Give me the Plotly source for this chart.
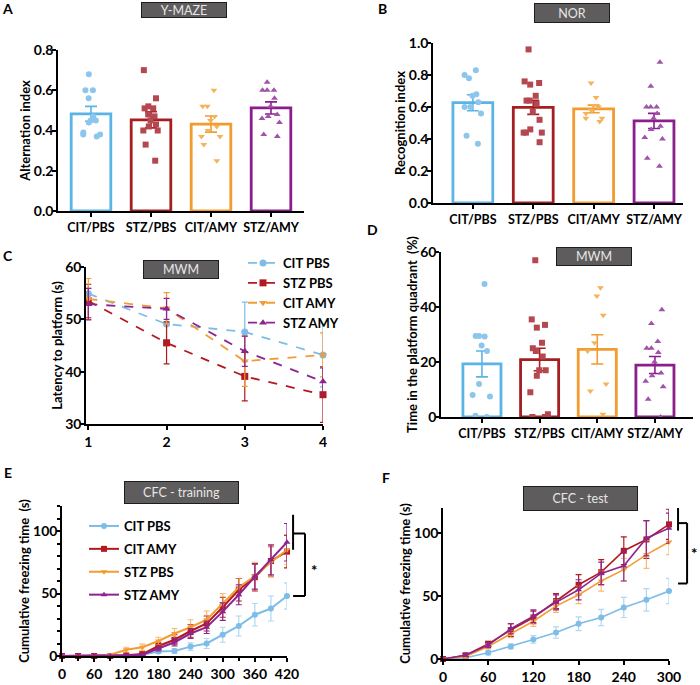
import plotly.graph_objects as go

W, H = 700, 685
FONT = "Lato"

groups = ["CIT/PBS", "STZ/PBS", "CIT/AMY", "STZ/AMY"]
bar_colors = ["#5BB4E6", "#A51E22", "#F29B2F", "#8B1D8D"]
dot_colors = ["#8CC6EC", "#B4474F", "#F5B257", "#A152A9"]
dot_symbols = ["circle", "square", "triangle-down", "triangle-up"]

# A - Y-maze
ymaze_points = [
    [0.68, 0.60, 0.60, 0.56, 0.47, 0.45, 0.45, 0.44, 0.39, 0.38, 0.38, 0.37],
    [0.70, 0.56, 0.52, 0.51, 0.51, 0.48, 0.47, 0.45, 0.43, 0.42, 0.40, 0.40, 0.33, 0.25],
    [0.60, 0.52, 0.52, 0.47, 0.45, 0.42, 0.40, 0.37, 0.37, 0.33, 0.25],
    [0.64, 0.60, 0.60, 0.60, 0.56, 0.52, 0.48, 0.47, 0.46, 0.44, 0.38, 0.37],
]
ymaze_mean = [0.483, 0.453, 0.432, 0.512]
ymaze_sem = [0.037, 0.040, 0.040, 0.030]

# B - NOR
nor_points = [
    [0.83, 0.80, 0.78, 0.68, 0.67, 0.63, 0.60, 0.60, 0.56, 0.42, 0.37],
    [0.96, 0.76, 0.75, 0.74, 0.67, 0.64, 0.64, 0.62, 0.57, 0.52, 0.46, 0.44, 0.44, 0.44, 0.38],
    [0.75, 0.66, 0.61, 0.60, 0.58, 0.56, 0.53, 0.53, 0.51],
    [0.88, 0.73, 0.60, 0.60, 0.60, 0.56, 0.53, 0.48, 0.46, 0.41, 0.40, 0.28, 0.23],
]
nor_mean = [0.627, 0.598, 0.588, 0.513]
nor_sem = [0.050, 0.044, 0.024, 0.047]

# C - MWM latency
days = [1, 2, 3, 4]
mwm_names = ["CIT PBS", "STZ PBS", "CIT AMY", "STZ AMY"]
mwm_lat = [
    [54.9, 49.1, 47.6, 43.2],
    [53.5, 45.5, 39.1, 35.6],
    [53.9, 52.1, 42.0, 43.2],
    [52.9, 52.0, 43.9, 38.1],
]
mwm_lat_sem = [
    [1.0, 3.0, 5.7, 6.1],
    [3.2, 4.0, 4.7, 5.3],
    [3.9, 3.0, 4.8, 4.2],
    [3.0, 2.0, 2.9, 2.6],
]

# D - MWM probe
probe_points = [
    [48.4, 29.5, 29.3, 29.5, 26.0, 24.0, 12.0, 8.0, 7.5, 0.5, 0.0],
    [57.0, 35.5, 33.5, 32.5, 27.0, 25.0, 24.0, 22.0, 17.0, 17.0, 15.0, 9.0, 1.0, 0.0, 0.0],
    [47.0, 44.0, 37.0, 27.0, 24.0, 12.0, 9.5, 1.0],
    [39.0, 34.0, 27.5, 25.0, 25.0, 23.5, 20.0, 16.0, 15.0, 13.0, 11.0, 6.5, 0.0],
]
probe_mean = [19.3, 20.9, 24.6, 18.9]
probe_sem = [4.7, 4.1, 5.3, 3.1]

# E / F - CFC
cfc_names = ["CIT PBS", "CIT AMY", "STZ PBS", "STZ AMY"]
cfc_colors = ["#7DBDE8", "#B3191F", "#F39C33", "#8E2490"]
cfc_err_colors = ["rgba(125,189,232,0.6)", "#B3191F", "rgba(243,156,51,0.7)", "#8E2490"]
cfc_symbols = ["circle", "square", "triangle-down", "triangle-up"]

train_t = [0, 30, 60, 90, 120, 150, 180, 210, 240, 270, 300, 330, 360, 390, 420]
train_vals = [
    [0, 0, 0, 0, 0.5, 1, 3.5, 4, 7.5, 10, 17, 24, 33, 38, 48],
    [0, 0, 0, 0, 0.5, 1.5, 8, 13, 20, 26, 39, 53, 63, 76, 83.5],
    [0, 0, 0, 1, 5, 7, 12, 18, 23, 29, 42, 55, 64, 75, 85],
    [0, 0, 0, 0, 0.5, 1, 6, 11, 18, 23, 35.5, 49, 63.5, 77, 91],
]
train_sem = [
    [0, 0, 0, 0, 0.3, 0.5, 1.5, 2, 3, 4, 6, 8, 9, 10, 10.5],
    [0, 0, 0, 0.3, 0.5, 1, 3, 4, 5, 6, 8, 9, 11, 12, 13],
    [0, 0, 0, 0.5, 2, 2.5, 3, 4, 6, 7, 8, 7, 11, 12, 12],
    [0, 0, 0, 0, 0.3, 0.5, 2, 3, 4, 5, 7, 8, 10, 12, 15],
]

test_t = [0, 30, 60, 90, 120, 150, 180, 210, 240, 270, 300]
test_vals = [
    [0, 1, 5, 10, 15.5, 21, 28, 33, 41, 47, 54],
    [0, 3, 12, 23, 33, 46, 59, 69, 86, 95, 107],
    [0, 2, 10, 20, 30, 42, 51, 62, 71, 83, 93],
    [0, 3, 11, 24, 34, 45, 55, 68, 74, 96, 104],
]
test_sem = [
    [0, 0.5, 1.5, 2, 3, 4.5, 5.5, 6.5, 8, 9, 10],
    [0, 1, 2, 5, 5, 6, 8, 10, 11, 15, 12],
    [0, 1, 2, 3, 4, 5, 7, 8, 9, 11, 10],
    [0, 1, 2, 4, 5, 6, 8, 9, 12, 14, 12],
]


def xd(a, b):
    return [a / W, b / W]


def yd(top, bottom):
    return [1 - bottom / H, 1 - top / H]


fig = go.Figure()


def bar_panel(n, points, means, sems):
    for i, g in enumerate(groups):
        fig.add_trace(go.Bar(
            x=[g], y=[means[i]], width=0.66, xaxis="x%d" % n, yaxis="y%d" % n,
            marker=dict(color="white", line=dict(color=bar_colors[i], width=2.8)),
            error_y=dict(type="data", array=[sems[i]], color=bar_colors[i],
                         thickness=1.6, width=6),
            showlegend=False, hoverinfo="skip"))
    for i, g in enumerate(groups):
        fig.add_trace(go.Box(
            x=[g] * len(points[i]), y=points[i], xaxis="x%d" % n, yaxis="y%d" % n,
            boxpoints="all", jitter=0.9, pointpos=0, width=0.45,
            fillcolor="rgba(0,0,0,0)", line=dict(color="rgba(0,0,0,0)"),
            marker=dict(symbol=dot_symbols[i], size=6, color=dot_colors[i]),
            showlegend=False, hoverinfo="skip"))


bar_panel(1, ymaze_points, ymaze_mean, ymaze_sem)
bar_panel(2, nor_points, nor_mean, nor_sem)
bar_panel(4, probe_points, probe_mean, probe_sem)

mwm_colors = ["#7DBDE8", "#B3191F", "#F39C33", "#8E2490"]
mwm_symbols = ["circle", "square", "triangle-down", "triangle-up"]
for i, name in enumerate(mwm_names):
    fig.add_trace(go.Scatter(
        x=days, y=mwm_lat[i], name=name, mode="lines+markers", xaxis="x3", yaxis="y3",
        line=dict(color=mwm_colors[i], width=1.8, dash="dash"),
        marker=dict(symbol=mwm_symbols[i], size=7, color=mwm_colors[i]),
        error_y=dict(type="data", array=mwm_lat_sem[i], color=mwm_colors[i],
                     thickness=1.2, width=3),
        cliponaxis=False, legend="legend"))

for i, name in enumerate(cfc_names):
    fig.add_trace(go.Scatter(
        x=train_t, y=train_vals[i], name=name, mode="lines+markers", xaxis="x5", yaxis="y5",
        line=dict(color=cfc_colors[i], width=2),
        marker=dict(symbol=cfc_symbols[i], size=6, color=cfc_colors[i]),
        error_y=dict(type="data", array=train_sem[i], color=cfc_err_colors[i],
                     thickness=1.2, width=3),
        cliponaxis=False, legend="legend2", legendgroup=name))
    fig.add_trace(go.Scatter(
        x=test_t, y=test_vals[i], name=name, mode="lines+markers", xaxis="x6", yaxis="y6",
        line=dict(color=cfc_colors[i], width=1.6),
        marker=dict(symbol=cfc_symbols[i], size=6, color=cfc_colors[i]),
        error_y=dict(type="data", array=test_sem[i], color=cfc_err_colors[i],
                     thickness=1.2, width=3),
        cliponaxis=False, showlegend=False))

tick_font = dict(family=FONT, size=14, color="black", weight="bold")
time_font = dict(family=FONT, size=14, color="black", weight="bold")
cat_font = dict(family=FONT, size=12.5, color="black", weight="bold")
title_font = dict(family=FONT, size=13, color="black", weight="bold")
base = dict(showline=True, linecolor="black", linewidth=1.6, ticks="outside",
            ticklen=4, tickwidth=1.6, tickcolor="black", showgrid=False,
            zeroline=False, tickfont=tick_font, automargin=False)


def cat_axis(a, b, rng):
    return dict(base, domain=xd(a, b), type="category", range=rng,
                categoryorder="array", categoryarray=groups, tickfont=cat_font)


def y_axis(top, bottom, rng, dtick, title, anchor, fmt=None, **kw):
    d = dict(base, domain=yd(top, bottom), range=rng, dtick=dtick, anchor=anchor,
             ticklabelstandoff=-4,
             title=dict(text=title, font=title_font, standoff=0))
    if fmt:
        d["tickformat"] = fmt
    d.update(kw)
    return d


fig.update_layout(
    width=W, height=H, margin=dict(l=0, r=0, t=0, b=0, autoexpand=False),
    plot_bgcolor="white", paper_bgcolor="white",
    barmode="overlay", boxmode="overlay",
    font=dict(family=FONT, color="black"),
    xaxis=dict(cat_axis(58, 304, [-0.55, 3.55]), anchor="y"),
    yaxis=y_axis(50, 211, [0, 0.8], 0.2, "Alternation index", "x", ".1f"),
    xaxis2=dict(cat_axis(433, 683, [-0.66, 3.48]), anchor="y2"),
    yaxis2=y_axis(43, 203, [0, 1.0], 0.2, "Recognition index", "x2", ".1f"),
    xaxis3=dict(base, domain=xd(86, 323), range=[0.97, 4.0], tickvals=days,
                anchor="y3"),
    yaxis3=y_axis(267, 424, [30, 60], 10, "Latency to platform (s)", "x3"),
    xaxis4=dict(cat_axis(441, 693, [-0.71, 3.66]), anchor="y4"),
    yaxis4=y_axis(252, 417, [0, 60], 20, "Time in the platform quadrant  (%)", "x4"),
    xaxis5=dict(base, domain=xd(62, 287), range=[0, 420], dtick=60, anchor="y5",
                tickfont=time_font,
                minor=dict(dtick=30, ticks="outside", ticklen=3, tickcolor="black")),
    yaxis5=y_axis(506, 656, [0, 120], 50, "Cumulative freezing time  (s)", "x5",
                  minor=dict(dtick=10, ticks="outside", ticklen=3, tickcolor="black")),
    xaxis6=dict(base, domain=xd(443, 669), range=[0, 300], dtick=60, anchor="y6",
                tickfont=time_font),
    yaxis6=y_axis(508, 659, [0, 120], 50, "Cumulative freezing time (s)", "x6"),
    legend=dict(x=243 / W, y=1 - 248 / H, xanchor="left", yanchor="top",
                bgcolor="rgba(0,0,0,0)", itemwidth=30, tracegroupgap=0,
                font=dict(family=FONT, size=13, color="black", weight="bold")),
    legend2=dict(x=84 / W, y=1 - 511 / H, xanchor="left", yanchor="top",
                 bgcolor="rgba(0,0,0,0)", itemwidth=30, tracegroupgap=3,
                 font=dict(family=FONT, size=13, color="black", weight="bold")),
)

# grey title boxes
boxes = [
    ("Y-MAZE", 142, 226, 3, 17),
    ("NOR", 535, 609, 4, 22),
    ("MWM", 144, 218, 261, 278),
    ("MWM", 557, 631, 248, 265),
    ("CFC - training", 125, 238, 482, 503),
    ("CFC - test", 524, 637, 487, 510),
]
for text, x0, x1, y0, y1 in boxes:
    fig.add_annotation(
        x=(x0 + x1) / 2 / W, y=1 - (y0 + y1) / 2 / H, xref="paper", yref="paper",
        xanchor="center", yanchor="middle",
        text=text, showarrow=False, width=x1 - x0 - 2, height=y1 - y0 - 2,
        bgcolor="#5E5C5C", bordercolor="#1E1E1E", borderwidth=1,
        font=dict(family=FONT, size=12.5, color="#E6E6E6"))

# panel letters
letters = [("A", 7, 8), ("B", 382, 8), ("C", 8, 255), ("D", 373, 229),
           ("E", 8, 473), ("F", 386, 477)]
for t, x, y in letters:
    fig.add_annotation(x=x / W, y=1 - y / H, xref="paper", yref="paper", text=t,
                       xanchor="center", yanchor="middle", showarrow=False,
                       font=dict(family=FONT, size=14, color="black", weight="bold"))


# significance brackets (x in axis-domain units, y in data units)
def bracket(n, ymax, xa, xb, top, short_low, mid, low, star_x, star_y):
    xr, yr = "x%d domain" % n, "y%d domain" % n
    segs = [(xa, top, xa, short_low), (xa, mid, xb, mid),
            (xb, mid, xb, low), (xb, low, xa, low)]
    for x0, y0, x1, y1 in segs:
        fig.add_shape(type="line", xref=xr, yref=yr, x0=x0, x1=x1,
                      y0=y0 / ymax, y1=y1 / ymax, line=dict(color="black", width=2))
    fig.add_annotation(xref=xr, yref=yr, x=star_x, y=star_y / ymax, text="*",
                       xanchor="center", yanchor="middle", showarrow=False,
                       font=dict(family=FONT, size=15, color="black", weight="bold"))


bracket(5, 120, 1.027, 1.08, 113, 85, 98, 48, 1.12, 69)
bracket(6, 120, 1.04, 1.08, 120, 102, 108, 60, 1.11, 84)

# drop the browser's default page margin so the 700x685 figure fills the window
fig.write_html("out.html", config={"displayModeBar": False},
               post_script="document.body.style.margin='0';")
